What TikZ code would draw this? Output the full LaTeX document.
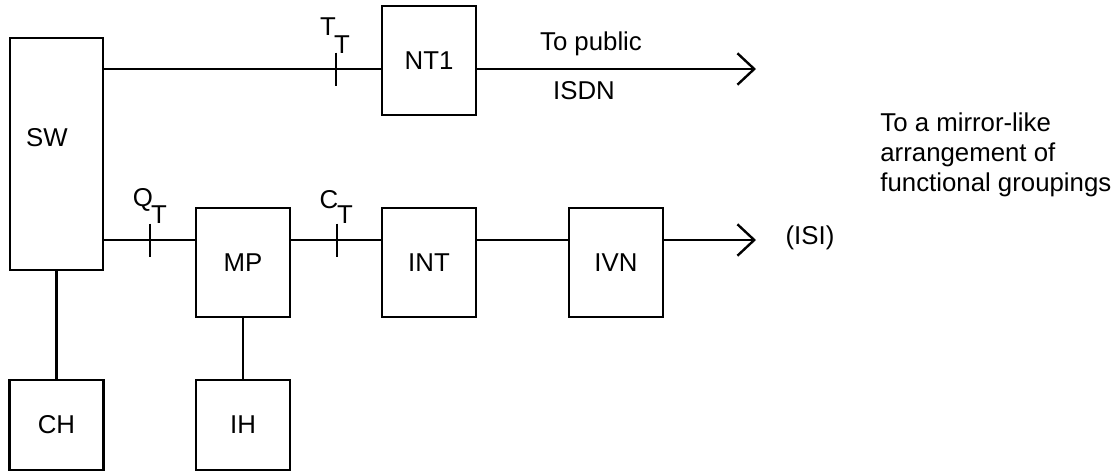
\documentclass[tikz,border=0pt]{standalone}
\usepackage{fontspec}
\setmainfont{Liberation Sans}
\usetikzlibrary{arrows.meta}
\tikzset{
  link/.style={line width=1.2pt},
  arrowO/.style={-{Straight Barb[length=8.4pt, width=15.7pt]}, line width=1.2pt},
  fgBox/.style={rectangle, draw=black, line width=1.2pt, minimum width=47pt,
                minimum height=54.5pt, inner sep=0pt},
  refLbl/.style={inner sep=0pt},
}

\begin{document}
\begin{tikzpicture}[x=0.5pt, y=-0.5pt, font=\fontsize{12.9}{15}\selectfont]
  \useasboundingbox (0,0) rectangle (1116,472);
  \coordinate (top) at (0,69);
  \coordinate (low) at (0,240);
  \node[fgBox, minimum width=46.5pt, minimum height=116pt,
        label={[xshift=-4.75pt, yshift=8pt]center:SW}] (sw) at (56.5,154) {};
  \node[fgBox] (nt1) at (429,60.5) {NT1};
  \node[fgBox] (mp)  at (243,262.5) {MP};
  \node[fgBox] (int) at (429,262.5) {INT};
  \node[fgBox] (ivn) at (616,262.5) {IVN};
  \node[fgBox, minimum height=45pt] (ch) at (56.5,425) {CH};
  \node[fgBox, minimum height=45pt] (ih) at (243,425) {IH};
  \coordinate (pub) at (756,69);
  \coordinate (isi) at (756,240);
  \coordinate (tT) at (336,69);
  \coordinate (tQ) at (150,240);
  \coordinate (tC) at (337,240);
  \draw[link] (sw.east |- top) -- (nt1.west |- top);
  \draw[arrowO] (nt1.east |- top) -- (pub);
  \draw[link] (sw.east |- low) -- (mp.west |- low);
  \draw[link] (mp.east |- low) -- (int.west |- low);
  \draw[link] (int.east |- low) -- (ivn.west |- low);
  \draw[arrowO] (ivn.east |- low) -- (isi);
  \draw[link] (sw.south) -- (ch.north);
  \draw[link] (mp.south) -- (ih.north);
  \foreach \t in {tT,tQ,tC}
    \draw[link] (\t) ++(0,-16.5) -- ++(0,33);
  \node[refLbl] (lT)  at (328,27)  {T};
  \node[refLbl] (lTt) at (342,45)  {T};
  \node[refLbl] (lQ)  at (143,200) {Q};
  \node[refLbl] (lQt) at (159,215) {T};
  \node[refLbl] (lC)  at (329,200) {C};
  \node[refLbl] (lCt) at (345,215) {T};
  \node[refLbl] (pubTxt)  at (591,44) {To public};
  \node[refLbl] (isdnTxt) at (584,91) {ISDN};
  \node[refLbl] (isiTxt)  at (810,238) {(ISI)};
  \node[refLbl, align=left, anchor=west] (mirror) at (880,155)
       {To a mirror-like\\arrangement of\\functional groupings};
\end{tikzpicture}
\end{document}
